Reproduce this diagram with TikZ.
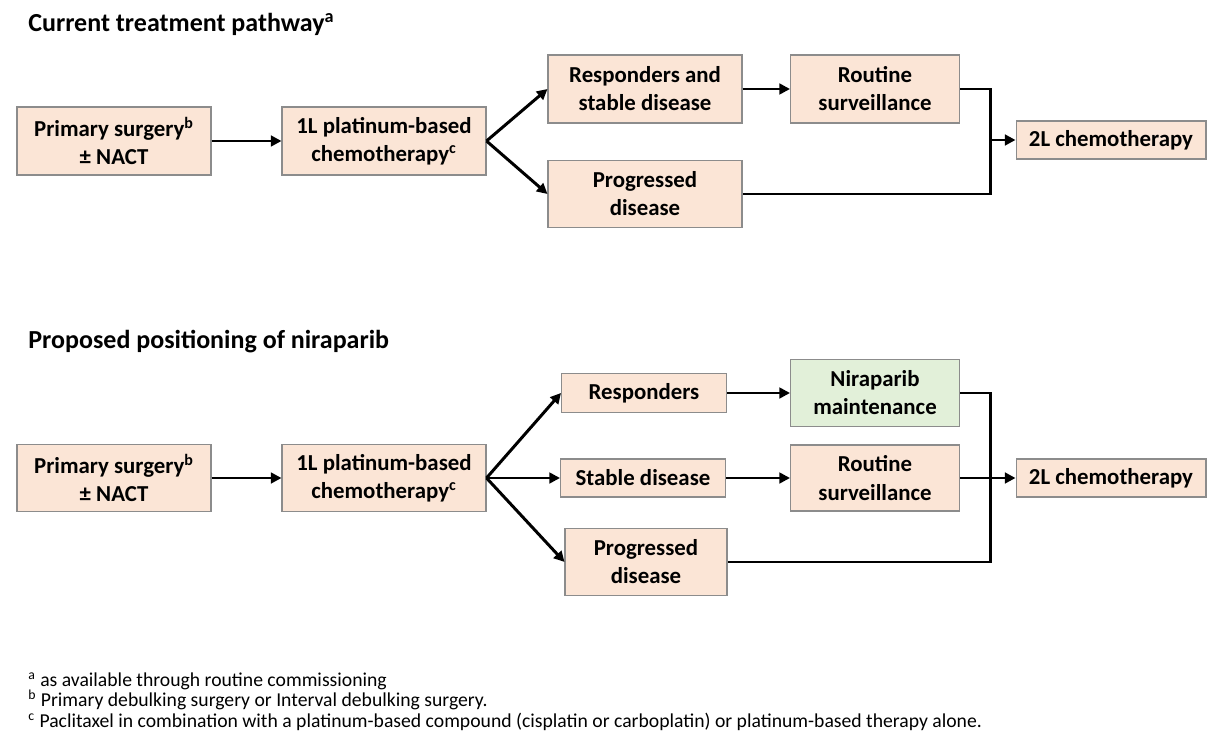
\documentclass[tikz,border=0pt]{standalone}
\usepackage{fontspec}
\setmainfont{Carlito}
\usetikzlibrary{positioning,arrows.meta}

\definecolor{peach}{RGB}{251,229,214}
\definecolor{mint}{RGB}{226,240,217}
\definecolor{boxline}{RGB}{140,140,140}

\tikzset{
  box/.style={draw=boxline, line width=0.6pt, fill=peach, align=center, inner sep=0pt,
    font=\fontsize{13}{16}\selectfont\bfseries},
  greenbox/.style={box, fill=mint},
  arr/.style={line width=1.7pt, -{Triangle[length=6pt,width=6pt]}},
  link/.style={line width=1.7pt},
  heading/.style={anchor=base west, inner sep=0pt, font=\fontsize{14.8}{18}\selectfont\bfseries},
  note/.style={anchor=base west, align=left, inner sep=0pt, font=\fontsize{11.2}{11.4}\selectfont}
}

\begin{document}
\begin{tikzpicture}[x=0.02cm,y=-0.02cm]
\useasboundingbox (0,0) rectangle (1214,733);

% current pathway
\node[heading] (t1) at (28,32) {Current treatment pathway\textsuperscript{a}};

\node[box, minimum width=3.88cm, minimum height=1.36cm] (ps1) at (114,141) {Primary surgery\textsuperscript{b}\\± NACT};
\node[box, minimum width=4.08cm, minimum height=1.36cm] (pc1) at (384,141) {1L platinum-based\\chemotherapy\textsuperscript{c}};

\node[box, minimum width=3.88cm, minimum height=1.36cm] (rs1) at (645,89) {Responders and\\stable disease};
\node[box, minimum width=3.88cm, minimum height=1.34cm] (pd1) at (645,194) {Progressed\\disease};

\node[box, minimum width=3.38cm, minimum height=1.36cm] (rv1) at (875,89) {Routine\\surveillance};
\node[box, minimum width=3.8cm, minimum height=0.76cm] (cl1) at (1111,140) {2L chemotherapy};

\coordinate (j1) at (990,140);

\draw[arr] (ps1) -- (pc1);
\draw[arr] (pc1.east) -- (rs1.west);
\draw[arr] (pc1.east) -- (pd1.west);
\draw[arr] (rs1) -- (rv1);
\draw[link] (rv1.east) -| (j1) |- (pd1.east);
\draw[arr] (j1) -- (cl1);

% proposed pathway
\node[heading] (t2) at (28,348) {Proposed positioning of niraparib};

\node[box, minimum width=3.88cm, minimum height=1.34cm] (ps2) at (114,478) {Primary surgery\textsuperscript{b}\\± NACT};
\node[box, minimum width=4.08cm, minimum height=1.34cm] (pc2) at (384,478) {1L platinum-based\\chemotherapy\textsuperscript{c}};

\node[box, minimum width=3.3cm, minimum height=0.78cm] (rp2) at (644,393) {Responders};
\node[box, minimum width=3.3cm, minimum height=0.76cm] (sd2) at (643,478) {Stable disease};
\node[box, minimum width=3.24cm, minimum height=1.34cm] (pd2) at (646,562) {Progressed\\disease};

\node[greenbox, minimum width=3.38cm, minimum height=1.34cm] (nm2) at (875,393) {Niraparib\\maintenance};
\node[box, minimum width=3.38cm, minimum height=1.32cm] (rv2) at (875,478) {Routine\\surveillance};
\node[box, minimum width=3.8cm, minimum height=0.76cm] (cl2) at (1111,478) {2L chemotherapy};

\coordinate (j2) at (990,478);

\draw[arr] (ps2) -- (pc2);
\draw[arr] (pc2.east) -- (rp2.west);
\draw[arr] (pc2.east) -- (sd2.west);
\draw[arr] (pc2.east) -- (pd2.west);
\draw[arr] (rp2) -- (nm2);
\draw[arr] (sd2) -- (rv2);
\draw[link] (nm2.east) -| (j2) |- (pd2.east);
\draw[arr] (rv2) -- (cl2);

% footnotes
\node[note] (notes) at (28,727) {\textsuperscript{a} as available through routine commissioning\\
\textsuperscript{b} Primary debulking surgery or Interval debulking surgery.\\
\textsuperscript{c} Paclitaxel in combination with a platinum-based compound (cisplatin or carboplatin) or platinum-based therapy alone.};

\end{tikzpicture}
\end{document}
